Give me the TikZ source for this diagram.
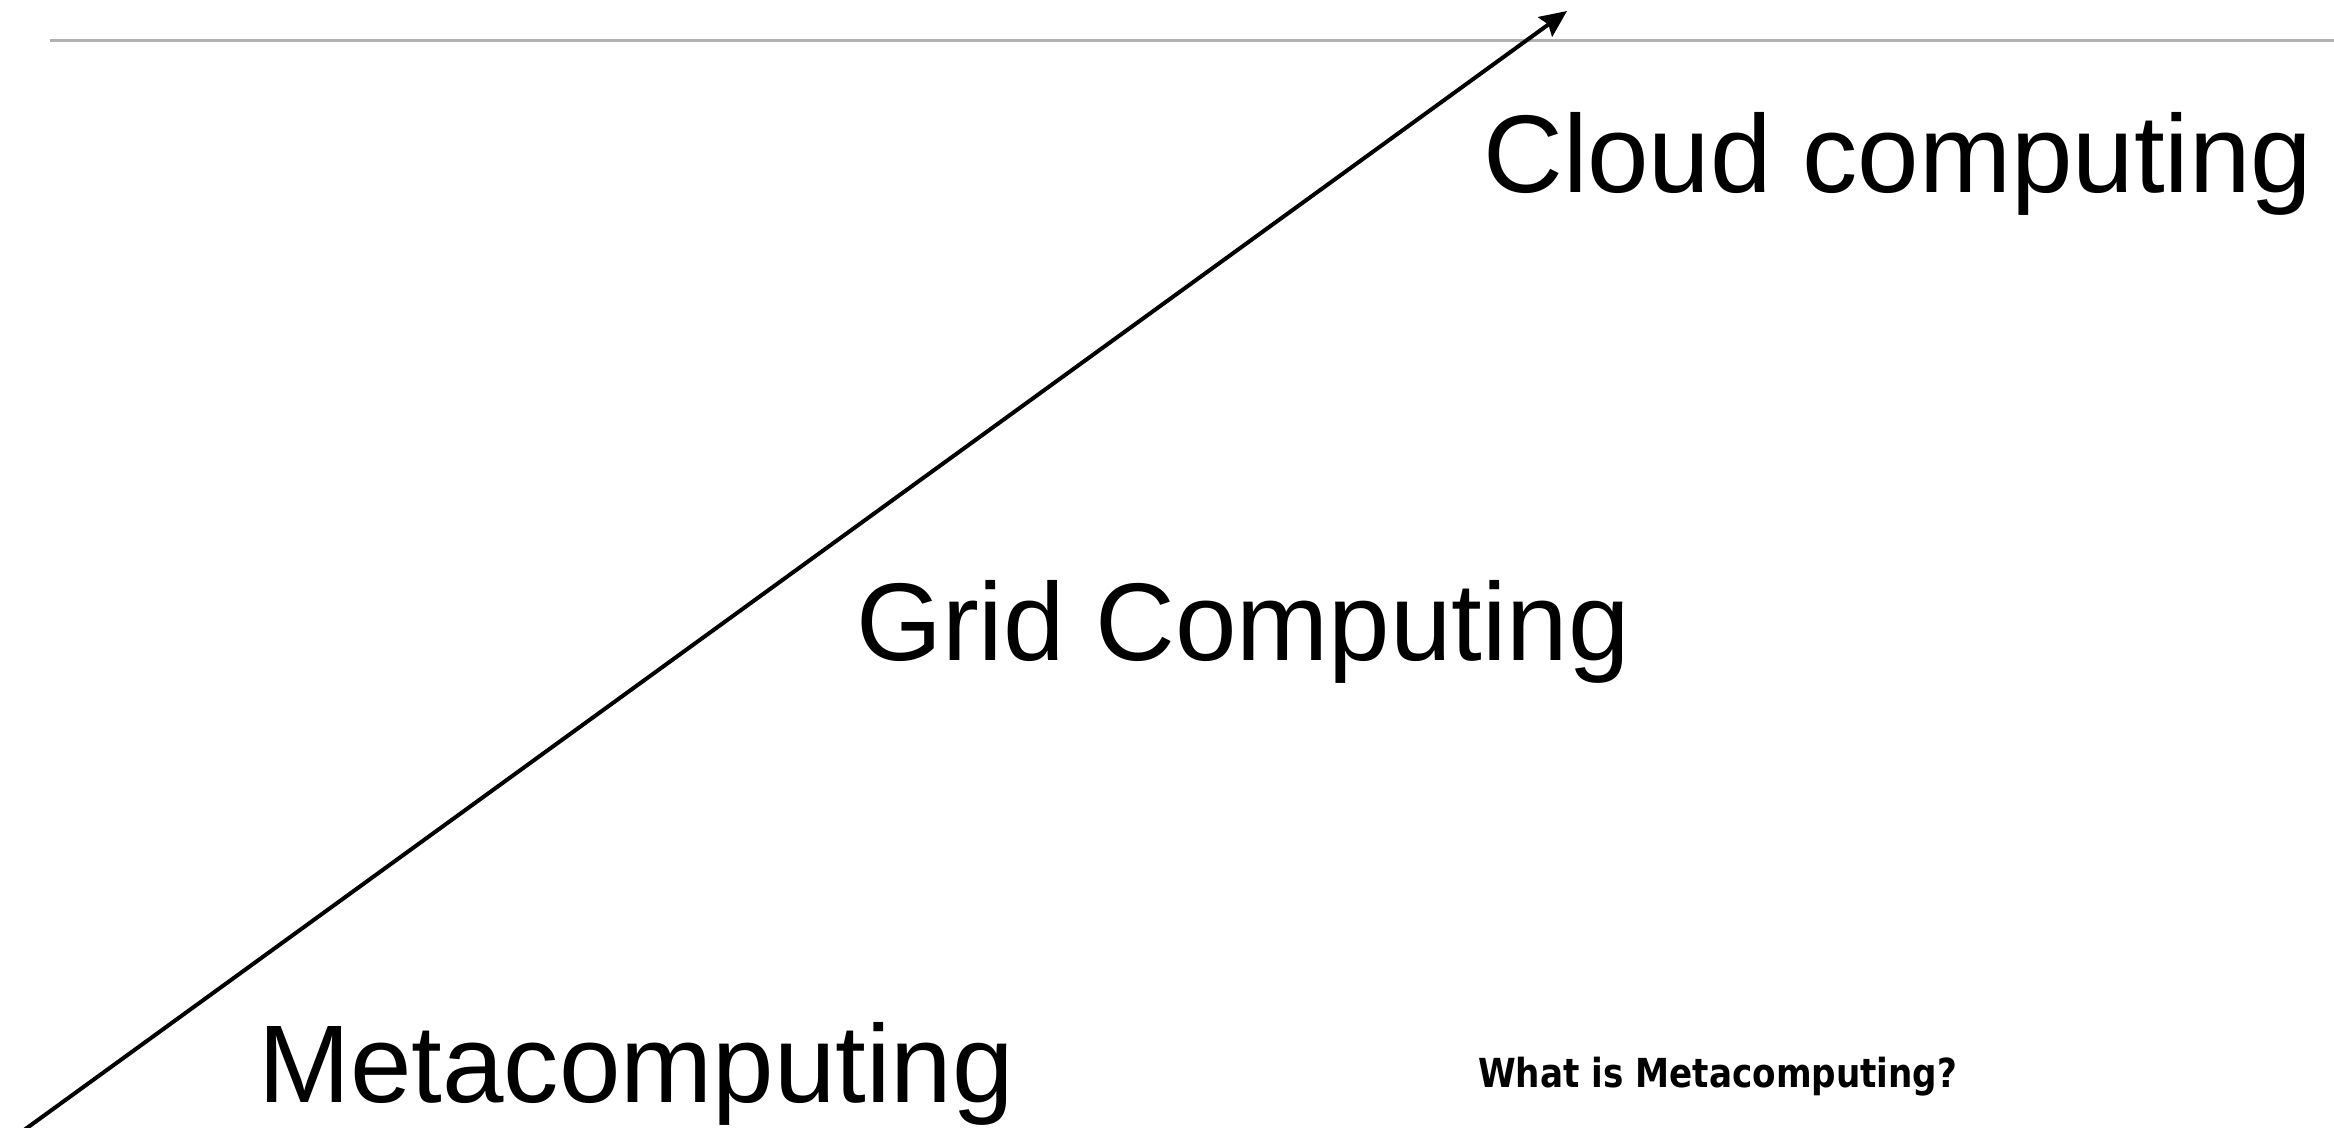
\documentclass[tikz,border=0pt]{standalone}
\usepackage{fontspec}
\setmainfont{Liberation Sans}
\newfontfamily\boldverd{DejaVu Sans}
\usetikzlibrary{arrows.meta}
\begin{document}
\begin{tikzpicture}[x=1pt,y=-1pt,
  bigtext/.style={anchor=base west,inner sep=0pt,font=\fontsize{110.5}{120}\selectfont},
  rule/.style={draw=black!31,line width=3pt},
  timeline/.style={draw=black,line width=4pt,-{Stealth[length=27pt,width=24pt,inset=4pt]}}]
\useasboundingbox (0,0) rectangle (2334,1127);
\fill[white] (0,0) rectangle (2334,1127);
\coordinate (rl) at (50,40);
\coordinate (rr) at (2334,40);
\draw[rule] (rl) -- (rr);
\coordinate (a0) at (20,1133);
\coordinate (a1) at (1567,11);
\draw[timeline] (a0) -- (a1);
\node[bigtext] (cloud) at (1483,192) {Cloud computing};
\node[bigtext] (grid) at (856,660) {Grid Computing};
\node[bigtext] (meta) at (258,1102) {Metacomputing};
\node[anchor=base west,inner sep=0pt] (what) at (1478,1087) {\scalebox{0.855}[1]{\boldverd\bfseries\fontsize{40}{46}\selectfont What is Metacomputing?}};
\end{tikzpicture}
\end{document}
